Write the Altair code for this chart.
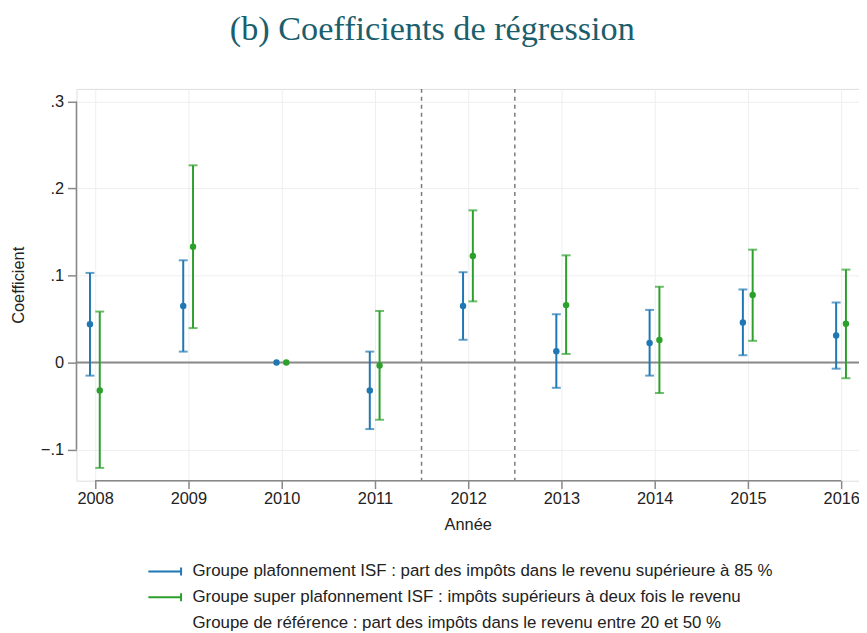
import altair as alt
import pandas as pd

# ---- data ----
years = [2008, 2009, 2010, 2011, 2012, 2013, 2014, 2015, 2016]
blue_coef = [0.044, 0.065, 0.0, -0.032, 0.065, 0.013, 0.0225, 0.046, 0.031]
blue_lo = [-0.015, 0.0126, None, -0.0764, 0.0262, -0.029, -0.015, 0.0084, -0.007]
blue_hi = [0.103, 0.1175, None, 0.0126, 0.1038, 0.0555, 0.0605, 0.084, 0.069]
green_coef = [-0.032, 0.133, 0.0, -0.0034, 0.1224, 0.066, 0.026, 0.0776, 0.0445]
green_lo = [-0.121, 0.0396, None, -0.0657, 0.0703, 0.0099, -0.035, 0.025, -0.018]
green_hi = [0.0586, 0.2266, None, 0.0593, 0.1749, 0.1232, 0.0871, 0.1297, 0.1068]

series = [
    "Groupe plafonnement ISF : part des impôts dans le revenu supérieure à 85 %",
    "Groupe super plafonnement ISF : impôts supérieurs à deux fois le revenu",
    "Groupe de référence : part des impôts dans le revenu entre 20 et 50 %",
]
colors = ["#1f77b4", "#2ca02c", "rgba(0,0,0,0)"]
offsets = [-0.055, 0.05]

y_ticks = [-0.1, 0, 0.1, 0.2, 0.3]
policy_breaks = [2011.5, 2012.5]

rows = []
for s_i, (coef, lo, hi) in enumerate([(blue_coef, blue_lo, blue_hi), (green_coef, green_lo, green_hi)]):
    for yr, c, l, h in zip(years, coef, lo, hi):
        rows.append({"year": yr, "x": yr + offsets[s_i], "coef": c, "lo": l, "hi": h, "group": series[s_i]})
df = pd.DataFrame(rows)

W, H = 789, 395
xscale = alt.Scale(domain=[2007.8, 2016.19], nice=False, zero=False)
yscale = alt.Scale(domain=[-0.1357, 0.3144], nice=False, zero=False)

FONT = "Liberation Sans"
TXT = "#222222"
FS = 16.5

xaxis = alt.Axis(values=years, format="d", title="Année", domain=False, grid=True,
                 gridColor="#eeeeee", gridWidth=1, tickColor="#888888", tickSize=8,
                 tickWidth=1.5, labelFont=FONT, labelFontSize=FS, labelColor=TXT,
                 labelPadding=2, titleFont=FONT, titleFontSize=FS, titleColor=TXT,
                 titleFontWeight="normal", titlePadding=10)
yaxis = alt.Axis(values=y_ticks, title="Coefficient", domain=False, grid=True,
                 gridColor="#eeeeee", gridWidth=1, tickColor="#888888", tickSize=9,
                 tickWidth=1.5, labelFont=FONT, labelFontSize=FS, labelColor=TXT,
                 labelPadding=4,
                 labelExpr="datum.value == 0 ? '0' : replace(format(datum.value, '.1f'), '0.', '.')",
                 titleFont=FONT, titleFontSize=FS, titleColor=TXT, titleFontWeight="normal",
                 titlePadding=14)

base = alt.Chart(df)

# invisible layer carrying the axes
axes_layer = base.mark_point(opacity=0).encode(
    x=alt.X("x:Q", scale=xscale, axis=xaxis),
    y=alt.Y("coef:Q", scale=yscale, axis=yaxis),
)

# dashed policy lines
dash_df = pd.DataFrame({"x": policy_breaks})
dashed = alt.Chart(dash_df).mark_rule(color="#7a7a7a", strokeWidth=1.5, strokeDash=[4, 4]).encode(
    x=alt.X("x:Q", scale=xscale)
)

# zero line
zero = alt.Chart(pd.DataFrame({"coef": [0]})).mark_rule(color="#8a8a8a", strokeWidth=2).encode(
    y=alt.Y("coef:Q", scale=yscale)
)

# axis lines spanning tick ranges (Stata style)
yline = alt.Chart(pd.DataFrame({"coef": [min(y_ticks)], "coef2": [max(y_ticks)]})).mark_rule(
    color="#888888", strokeWidth=1.5).encode(
    x=alt.value(0), y=alt.Y("coef:Q", scale=yscale), y2="coef2:Q")
xline = alt.Chart(pd.DataFrame({"x": [min(years)], "x2": [max(years)]})).mark_rule(
    color="#888888", strokeWidth=1.5).encode(
    y=alt.value(H), x=alt.X("x:Q", scale=xscale), x2="x2:Q")

# legend symbol: 10px nominal size, path drawn wider (33px) with a cap at the right end
legend = alt.Legend(title=None, orient="none", legendX=80.5, legendY=478, direction="vertical",
                    symbolType="M-3.3,0H3.3M3.3,-0.8V0.8", symbolSize=100, symbolStrokeWidth=2,
                    labelFont=FONT, labelFontSize=17, labelColor=TXT, labelLimit=0,
                    labelOffset=19.5, rowPadding=8)

bars = base.transform_filter("isValid(datum.lo)").mark_rule(strokeWidth=2).encode(
    x=alt.X("x:Q", scale=xscale),
    y=alt.Y("lo:Q", scale=yscale),
    y2="hi:Q",
    color=alt.Color("group:N", scale=alt.Scale(domain=series, range=colors), legend=legend),
)

fill_scale = alt.Scale(domain=series, range=colors)
cap_lo = base.transform_filter("isValid(datum.lo)").mark_tick(orient="horizontal", size=9, thickness=2).encode(
    x=alt.X("x:Q", scale=xscale),
    y=alt.Y("lo:Q", scale=yscale),
    fill=alt.Fill("group:N", scale=fill_scale, legend=None),
)
cap_hi = base.transform_filter("isValid(datum.lo)").mark_tick(orient="horizontal", size=9, thickness=2).encode(
    x=alt.X("x:Q", scale=xscale),
    y=alt.Y("hi:Q", scale=yscale),
    fill=alt.Fill("group:N", scale=fill_scale, legend=None),
)
points = base.mark_circle(size=42, opacity=1).encode(
    x=alt.X("x:Q", scale=xscale),
    y=alt.Y("coef:Q", scale=yscale),
    fill=alt.Fill("group:N", scale=fill_scale, legend=None),
)

chart = alt.layer(axes_layer, dashed, zero, yline, xline, bars, cap_lo, cap_hi, points).properties(
    width=W, height=H,
    autosize=alt.AutoSizeParams(type="none"),
    padding={"left": 69, "top": 79, "right": 0, "bottom": 151},
    title=alt.TitleParams("(b) Coefficients de régression", font="Liberation Serif", fontSize=34.5,
                          fontWeight="normal", color="#1b5e6c", anchor="middle", frame="bounds",
                          offset=41, dx=-3),
).configure_view(stroke=None).configure(background="white")

chart.save("out.html", embed_options={"renderer": "svg", "actions": False})
